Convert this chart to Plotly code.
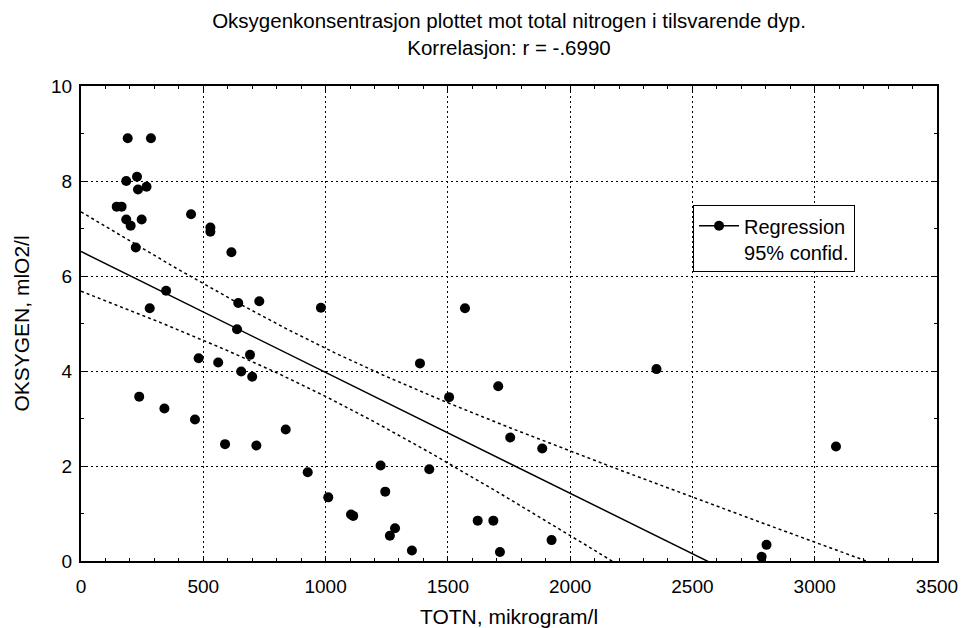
import numpy as np
import plotly.graph_objects as go

# Data
totn = [191, 286, 185, 229, 233, 268, 146, 166, 185, 203, 248, 450, 529, 529, 224, 615,
        348, 281, 643, 729, 981, 638, 481, 561, 691, 655, 700, 238, 341, 466, 837, 589,
        717, 927, 1011, 1104, 1113, 1225, 1244, 1424, 1386, 1505, 1284, 1263, 1353, 1570,
        1622, 1706, 1755, 1886, 2353, 1686, 1924, 1713, 2803, 2783, 3087]
oksygen = [8.90, 8.90, 8.00, 8.09, 7.82, 7.88, 7.46, 7.46, 7.19, 7.06, 7.19, 7.30, 7.02, 6.93,
           6.60, 6.50, 5.69, 5.32, 5.43, 5.47, 5.33, 4.88, 4.27, 4.18, 4.34, 3.99, 3.88, 3.46,
           3.21, 2.98, 2.77, 2.46, 2.43, 1.87, 1.34, 0.98, 0.95, 2.01, 1.46, 1.93, 4.16, 3.45,
           0.69, 0.53, 0.22, 5.32, 0.85, 3.68, 2.60, 2.37, 4.04, 0.85, 0.44, 0.19, 0.34, 0.09,
           2.41]

title_line1 = "Oksygenkonsentrasjon plottet mot total nitrogen i tilsvarende dyp."
title_line2 = "Korrelasjon: r = -.6990"
x_title = "TOTN, mikrogram/l"
y_title = "OKSYGEN, mlO2/l"
legend_label = "Regression<br>95% confid."

# Linear regression with 95% confidence band for the mean
x = np.array(totn, dtype=float)
y = np.array(oksygen, dtype=float)
n = len(x)
slope, intercept = np.polyfit(x, y, 1)
resid = y - (intercept + slope * x)
s = np.sqrt(np.sum(resid ** 2) / (n - 2))
xbar = x.mean()
sxx = np.sum((x - xbar) ** 2)
t_val = 2.004  # t(0.975, df=55)
xf = np.linspace(0, 3500, 300)
yf = intercept + slope * xf
half = t_val * s * np.sqrt(1.0 / n + (xf - xbar) ** 2 / sxx)

fig = go.Figure()
fig.add_trace(go.Scatter(x=xf, y=yf + half, mode="lines",
                         line=dict(color="black", width=1.5, dash="3px,3px"), showlegend=False))
fig.add_trace(go.Scatter(x=xf, y=yf - half, mode="lines",
                         line=dict(color="black", width=1.5, dash="3px,3px"), showlegend=False))
fig.add_trace(go.Scatter(x=xf, y=yf, mode="lines",
                         line=dict(color="black", width=1.5), showlegend=False))
fig.add_trace(go.Scatter(x=totn, y=oksygen, mode="markers",
                         marker=dict(color="black", size=10), showlegend=False))
fig.add_trace(go.Scatter(x=[None], y=[None], mode="lines+markers", name=legend_label,
                         line=dict(color="black", width=1.5),
                         marker=dict(color="black", size=10)))

font_family = "Liberation Sans, Arial, Helvetica, sans-serif"
fig.update_layout(
    width=964, height=628,
    margin=dict(l=81, r=27, t=86, b=67),
    paper_bgcolor="white", plot_bgcolor="white",
    font=dict(family=font_family, color="black", size=19),
    title=dict(text=title_line1 + "<br>" + title_line2, x=0.5, xref="paper", xanchor="center",
               y=1 - 28 / 628, yref="container", yanchor="middle",
               font=dict(size=20.5, color="black")),
    legend=dict(x=0.715, y=0.749, xanchor="left", yanchor="top",
                bgcolor="white", bordercolor="black", borderwidth=1,
                font=dict(size=20), valign="top", itemwidth=40),
    showlegend=True,
)
fig.update_xaxes(
    range=[0, 3500], dtick=500, tick0=0, automargin=False,
    showline=True, linecolor="black", linewidth=2, mirror="allticks",
    ticks="inside", ticklen=5, tickcolor="black", tickwidth=1,
    minor=dict(dtick=100, ticks="inside", ticklen=3, tickcolor="black", showgrid=False),
    showgrid=True, gridcolor="black", gridwidth=1, griddash="2px,3px",
    zeroline=False, ticklabelstandoff=7,
    title=dict(text=x_title, font=dict(size=21), standoff=15),
    tickfont=dict(size=19),
)
fig.update_yaxes(
    range=[0, 10], dtick=2, tick0=0, automargin=False,
    showline=True, linecolor="black", linewidth=2, mirror="allticks",
    ticks="inside", ticklen=5, tickcolor="black", tickwidth=1,
    minor=dict(dtick=1, ticks="inside", ticklen=3, tickcolor="black", showgrid=False),
    showgrid=True, gridcolor="black", gridwidth=1, griddash="2px,3px",
    zeroline=False, ticklabelstandoff=3,
    title=dict(text=y_title, font=dict(size=21), standoff=16),
    tickfont=dict(size=19),
)

fig.write_html("out.html", config={"displayModeBar": False},
               post_script="document.body.style.margin='0';")
